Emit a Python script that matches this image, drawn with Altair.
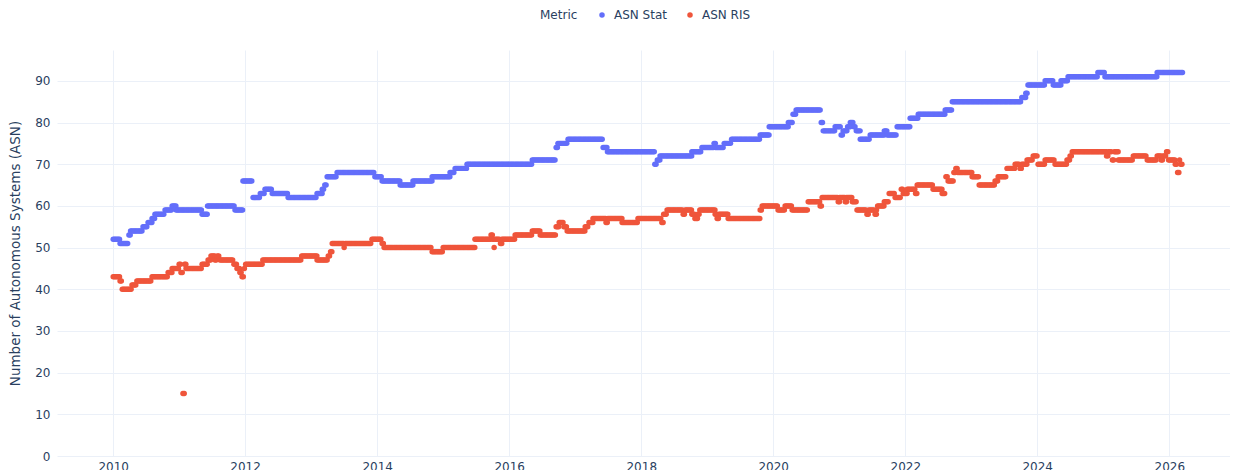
import altair as alt
import pandas as pd

# ---- data (step change points: date, value) ----
stat_dates = [
    "2010-01-01", "2010-02-08", "2010-03-29", "2010-04-07", "2010-06-15", "2010-07-13",
    "2010-08-04", "2010-08-20", "2010-10-15", "2010-11-23", "2010-12-15", "2011-05-08",
    "2011-06-07", "2011-11-06", "2011-12-20", "2012-02-14", "2012-03-25", "2012-04-20",
    "2012-05-30", "2012-08-26", "2013-02-02", "2013-03-03", "2013-03-17", "2013-03-30",
    "2013-05-24", "2013-12-19", "2014-01-28", "2014-05-08", "2014-07-18", "2014-11-01",
    "2015-02-08", "2015-03-08", "2015-05-13", "2016-05-08", "2016-09-17", "2016-09-27",
    "2016-11-22", "2017-06-04", "2017-06-28", "2018-03-07", "2018-03-17", "2018-03-31",
    "2018-04-15", "2018-10-08", "2018-12-03", "2019-02-08", "2019-02-16", "2019-04-05",
    "2019-05-16", "2019-10-21", "2019-12-10", "2020-03-25", "2020-04-20", "2020-05-07",
    "2020-09-23", "2020-10-04", "2020-12-09", "2021-01-11", "2021-01-22", "2021-02-16",
    "2021-03-03", "2021-03-22", "2021-04-05", "2021-04-27", "2021-06-21", "2021-09-07",
    "2021-09-23", "2021-11-17", "2022-01-28", "2022-03-14", "2022-08-10", "2022-09-18",
    "2023-10-08", "2023-10-30", "2023-11-11", "2024-02-14", "2024-03-30", "2024-05-12",
    "2024-06-20", "2024-12-02", "2025-01-10", "2025-10-26",
]
stat_values = [
    52, 51, 53, 54, 55, 56,
    57, 58, 59, 60, 59, 58,
    60, 59, 66, 62, 63, 64,
    63, 62, 63, 64, 65, 67,
    68, 67, 66, 65, 66, 67,
    68, 69, 70, 71, 74, 75,
    76, 74, 73, 73, 70, 71,
    72, 73, 74, 75, 74, 75,
    76, 77, 79, 80, 82, 83,
    80, 78, 79, 77, 78, 79,
    80, 79, 78, 76, 77, 78,
    77, 79, 81, 82, 83, 85,
    86, 87, 89, 90, 89, 90,
    91, 92, 91, 92,
]

ris_dates = [
    "2010-01-01", "2010-02-08", "2010-02-20", "2010-04-15", "2010-05-12", "2010-08-04",
    "2010-11-01", "2010-11-23", "2011-01-01", "2011-01-11", "2011-01-22", "2011-01-31",
    "2011-02-08", "2011-05-08", "2011-06-10", "2011-06-26", "2011-07-18", "2011-08-01",
    "2011-08-15", "2011-10-31", "2011-11-17", "2011-12-03", "2011-12-15", "2011-12-28",
    "2012-01-04", "2012-04-08", "2012-11-09", "2013-02-02", "2013-04-05", "2013-04-18",
    "2013-04-27", "2013-07-02", "2013-07-09", "2013-12-03", "2014-01-28", "2014-02-08",
    "2014-11-01", "2015-01-01", "2015-06-26", "2015-09-23", "2015-10-01", "2015-10-10",
    "2015-10-17", "2015-11-14", "2015-11-22", "2016-02-03", "2016-05-08", "2016-06-21",
    "2016-09-17", "2016-10-04", "2016-10-30", "2016-11-17", "2017-02-25", "2017-03-18",
    "2017-04-09", "2017-06-20", "2017-07-01", "2017-09-17", "2017-12-14", "2018-04-25",
    "2018-05-05", "2018-05-24", "2018-08-21", "2018-09-01", "2018-10-08", "2018-10-25",
    "2018-11-10", "2018-11-21", "2019-02-14", "2019-02-25", "2019-03-07", "2019-04-27",
    "2019-10-21", "2019-11-01", "2020-01-28", "2020-03-07", "2020-04-15", "2020-07-13",
    "2020-09-17", "2020-09-28", "2020-12-26", "2021-01-03", "2021-02-03", "2021-02-11",
    "2021-03-14", "2021-04-09", "2021-06-03", "2021-06-14", "2021-07-18", "2021-07-26",
    "2021-08-01", "2021-09-07", "2021-10-04", "2021-11-06", "2021-12-10", "2021-12-21",
    "2022-01-12", "2022-02-27", "2022-03-08", "2022-06-04", "2022-07-24", "2022-08-14",
    "2022-08-26", "2022-09-27", "2022-10-08", "2022-10-19", "2023-01-06", "2023-02-14",
    "2023-05-13", "2023-05-30", "2023-07-18", "2023-09-01", "2023-09-28", "2023-10-08",
    "2023-11-06", "2023-12-10", "2024-01-06", "2024-02-14", "2024-04-09", "2024-06-14",
    "2024-07-01", "2024-07-13", "2025-01-19", "2025-01-30", "2025-02-20", "2025-03-03",
    "2025-03-25", "2025-06-16", "2025-09-01", "2025-10-26", "2025-11-17", "2025-11-28",
    "2025-12-17", "2025-12-28", "2026-02-03", "2026-02-16", "2026-02-27", "2026-03-05",
]
ris_values = [
    43, 42, 40, 41, 42, 43,
    44, 45, 46, 44, 15, 46,
    45, 46, 47, 48, 47, 48,
    47, 46, 45, 44, 43, 45,
    46, 47, 48, 47, 48, 49,
    51, 50, 51, 52, 51, 50,
    49, 50, 52, 53, 52, 50,
    52, 51, 52, 53, 54, 53,
    55, 56, 55, 54, 55, 56,
    57, 56, 57, 56, 57, 56,
    58, 59, 58, 59, 58, 57,
    58, 59, 58, 57, 58, 57,
    59, 60, 59, 60, 59, 61,
    60, 62, 61, 62, 61, 62,
    61, 59, 58, 59, 58, 59,
    60, 61, 63, 62, 64, 63,
    64, 63, 65, 64, 63, 67,
    66, 68, 69, 68, 67, 65,
    66, 67, 69, 70, 69, 70,
    71, 72, 70, 71, 70, 71,
    72, 73, 72, 73, 71, 73,
    71, 72, 71, 72, 71, 72,
    73, 71, 70, 68, 71, 70,
]

end_date = "2026-03-15"
metrics = ["ASN Stat", "ASN RIS"]
colors = ["#636efa", "#EF553B"]


def expand(dates, values, end, name):
    d = pd.to_datetime(dates)
    e = pd.Timestamp(end) + pd.Timedelta(days=1)
    rows = []
    for i, (s, v) in enumerate(zip(d, values)):
        nxt = d[i + 1] if i + 1 < len(d) else e
        t = s
        while t < nxt:
            rows.append({"date": t.strftime("%Y-%m-%dT%H:%M:%S"), "value": v, "Metric": name})
            t += pd.Timedelta(days=7)
    return rows


rows = expand(stat_dates, stat_values, end_date, metrics[0]) + \
    expand(ris_dates, ris_values, end_date, metrics[1])
df = pd.DataFrame(rows)
df["order"] = df["Metric"].map({metrics[0]: 0, metrics[1]: 1})

font = "DejaVu Sans"
txt = "#2a3f5f"
grid = "#EBF0F8"

year_ticks = [alt.DateTime(year=y, month=1, date=1) for y in range(2010, 2027, 2)]

chart = alt.Chart(df).mark_point(filled=True, size=30, opacity=1, strokeWidth=0).encode(
    x=alt.X(
        "date:T",
        scale=alt.Scale(domain=[alt.DateTime(year=2009, month=2, date=24),
                                alt.DateTime(year=2026, month=12, date=3)]),
        axis=alt.Axis(title=None, values=year_ticks, format="%Y", domain=False, ticks=False,
                      labelPadding=5, gridColor=grid, gridWidth=1,
                      labelColor=txt, labelFont=font, labelFontSize=12),
    ),
    y=alt.Y(
        "value:Q",
        scale=alt.Scale(domain=[0, 97.4], nice=False, zero=True),
        axis=alt.Axis(title="Number of Autonomous Systems (ASN)", values=list(range(0, 91, 10)),
                      domain=False, ticks=False, labelPadding=7, gridColor=grid, gridWidth=1,
                      labelColor=txt, labelFont=font, labelFontSize=12,
                      titleColor=txt, titleFont=font, titleFontSize=13.5, titleFontWeight="normal",
                      titlePadding=12),
    ),
    color=alt.Color(
        "Metric:N",
        scale=alt.Scale(domain=metrics, range=colors),
        legend=alt.Legend(orient="none", direction="horizontal", legendX=483, legendY=-41,
                          title="Metric", titleOrient="left", titleFont=font, titleFontSize=12,
                          titleFontWeight="normal", titleColor=txt, titlePadding=18,
                          labelFont=font, labelFontSize=12, labelColor=txt,
                          symbolType="circle", symbolSize=30, symbolStrokeWidth=0,
                          columnPadding=17, labelOffset=6),
    ),
    order=alt.Order("order:Q"),
).properties(
    width=1173,
    height=406,
    padding={"left": 0, "top": 1, "right": 0, "bottom": 0},
).configure(background="white").configure_view(stroke=None)

chart.save("out.html", embed_options={"renderer": "svg", "actions": False})
